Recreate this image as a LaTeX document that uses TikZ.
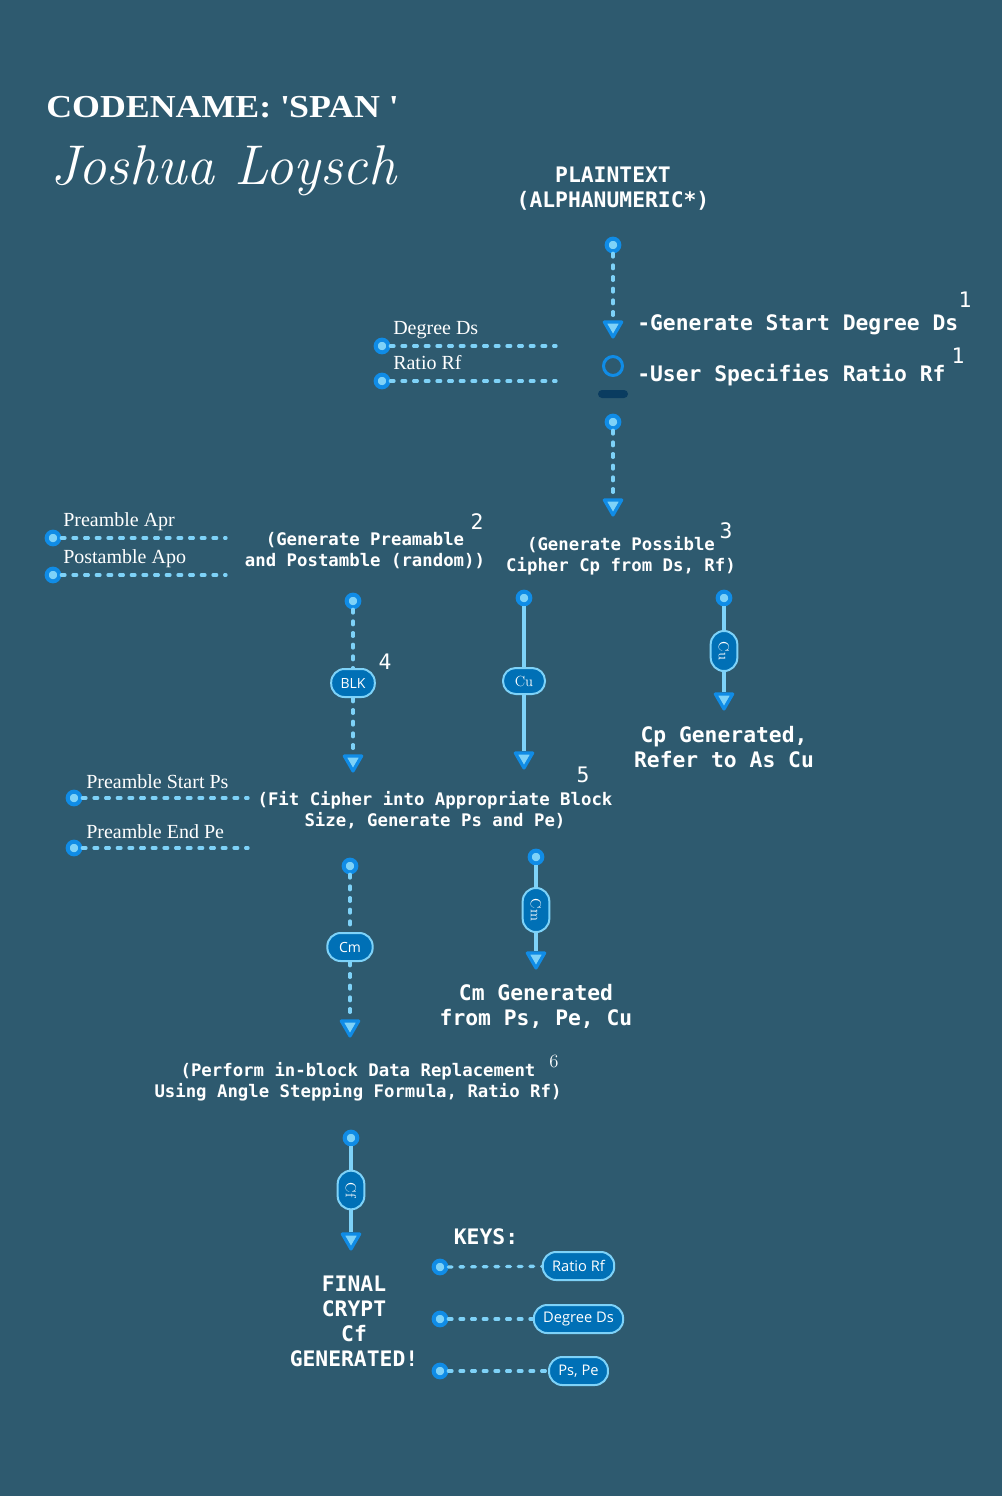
\documentclass[tikz,border=0pt]{standalone}
\usepackage{fontspec}
\usetikzlibrary{shapes.geometric,shapes.misc}
\newfontfamily\monofam{DejaVu Sans Mono}
\newfontfamily\sansfam{Open Sans}
\newfontfamily\titlefam[FakeStretch=1.12]{Liberation Serif}
\newfontfamily\labfam{Liberation Serif}
\definecolor{bg}{RGB}{46,90,111}
\definecolor{lite}{RGB}{126,210,248}
\definecolor{blu}{RGB}{16,140,230}
\definecolor{pillc}{RGB}{0,112,182}
\definecolor{barc}{RGB}{10,60,96}
\begin{document}
\begin{tikzpicture}[x=0.75pt,y=-0.75pt,
  dotn/.style={circle,fill=lite,draw=blu,line width=3pt,minimum size=9.5pt,inner sep=0pt},
  dsh/.style={draw=lite,line width=2.5pt,dash pattern=on 2.75pt off 6pt,line cap=round},
  sol/.style={draw=lite,line width=2.6pt},
  tip/.style={regular polygon,regular polygon sides=3,shape border rotate=180,fill=lite,draw=blu,line width=2.4pt,line join=round,minimum size=15pt,inner sep=0pt},
  pill/.style={rectangle,rounded corners=10pt,fill=pillc,draw=lite,line width=1.5pt,text=white,font=\sansfam\fontsize{10.5}{12}\selectfont,minimum height=21pt,inner xsep=7pt,inner ysep=0pt},
  spill/.style={pill,rounded corners=9.5pt,font=\fontsize{11}{12}\selectfont,minimum height=19.5pt,minimum width=31.5pt},
  vpill/.style={pill,rotate=-90,font=\fontsize{11}{12}\selectfont,minimum height=20pt,minimum width=30pt,inner xsep=3pt},
  kpill/.style={pill,font=\sansfam\fontsize{11}{12}\selectfont},
  big/.style={text=white,font=\monofam\bfseries\fontsize{16}{18.75}\selectfont,inner sep=0pt,align=center},
  stp/.style={text=white,font=\monofam\bfseries\fontsize{13}{15.75}\selectfont,inner sep=0pt,align=center},
  lab/.style={text=white,font=\labfam\fontsize{15}{17}\selectfont,inner sep=0pt,anchor=west},
  num/.style={text=white,font=\monofam\fontsize{16}{18}\selectfont,inner sep=0pt}
]
\fill[bg] (0,0) rectangle (1002,1496);
\useasboundingbox (0,0) rectangle (1002,1496);

% title
\node[anchor=base west,inner sep=0pt,text=white,font=\titlefam\bfseries\fontsize{24}{28}\selectfont] (title) at (46,117) {CODENAME: \textquotesingle SPAN \textquotesingle};
\node[anchor=base west,inner sep=0pt,text=white,font=\itshape\fontsize{42}{46}\selectfont] (name) at (50,184) {Joshua Loysch};

% plaintext
\node[big] (plain) at (613,189) {PLAINTEXT\\(ALPHANUMERIC*)};

% step 1
\node[dotn] (d1) at (613,245) {};
\node[tip] (a1) at (613,327) {};
\draw[dsh] (d1) -- (a1.north);
\node[big,anchor=west] (g1) at (637,325) {-Generate Start Degree Ds};
\node[num] (n1a) at (965,300) {1};
\node[circle,draw=blu,line width=2.25pt,minimum size=14.25pt,inner sep=0pt] (circ) at (613,366) {};
\node[big,anchor=west] (g2) at (637,375) {-User Specifies Ratio Rf};
\node[num] (n1b) at (958,356) {1};
\node[rectangle,rounded corners=3pt,fill=barc,minimum width=22.5pt,minimum height=6pt,inner sep=0pt] (bar) at (613,394) {};
\node[dotn] (d2) at (613,422) {};
\node[tip] (a2) at (613,505) {};
\draw[dsh] (d2) -- (a2.north);

% left keys step 1
\node[lab] (lds) at (393,330) {Degree Ds};
\node[dotn] (dds) at (382,346) {};
\coordinate (eds) at (556,346);
\draw[dsh] (dds) -- (eds);
\node[lab] (lrf) at (393,363) {Ratio Rf};
\node[dotn] (drf) at (382,381) {};
\coordinate (erf) at (556,381);
\draw[dsh] (drf) -- (erf);

% step 2
\node[stp] (s2) at (365,551) {(Generate Preamable\\and Postamble (random))};
\node[num] (n2) at (477,522) {2};
\node[lab] (lapr) at (63,522) {Preamble Apr};
\node[dotn] (dapr) at (53,538) {};
\coordinate (eapr) at (226,538);
\draw[dsh] (dapr) -- (eapr);
\node[lab] (lapo) at (63,559) {Postamble Apo};
\node[dotn] (dapo) at (53,575) {};
\coordinate (eapo) at (226,575);
\draw[dsh] (dapo) -- (eapo);

% step 3
\node[stp] (s3) at (621,556) {(Generate Possible\\Cipher Cp from Ds, Rf)};
\node[num] (n3) at (726,531) {3};

% BLK column
\node[dotn] (d4) at (353,601) {};
\node[pill] (blk) at (353,683) {BLK};
\node[tip] (a4) at (353,761) {};
\draw[dsh] (d4) -- (blk);
\draw[dsh] (blk) -- (a4.north);
\node[num] (n4) at (385,662) {4};

% Cu column
\node[dotn] (d5) at (524,598) {};
\node[spill] (cu1) at (524,681) {Cu};
\node[tip] (a5) at (524,758) {};
\draw[sol] (d5) -- (cu1);
\draw[sol] (cu1) -- (a5.north);

% right Cu column
\node[dotn] (d6) at (724,598) {};
\node[vpill] (cu2) at (724,651) {Cu};
\node[tip] (a6) at (724,699) {};
\draw[sol] (d6) -- (cu2);
\draw[sol] (cu2) -- (a6.north);
\node[big] (cpg) at (724,747) {Cp Generated,\\Refer to As Cu};

% step 5
\node[num] (n5) at (583,775) {5};
\node[stp] (s5) at (435,810) {(Fit Cipher into Appropriate Block\\Size, Generate Ps and Pe)};
\node[lab] (lps) at (86,782) {Preamble Start Ps};
\node[dotn] (dps) at (74,798) {};
\coordinate (eps) at (248,798);
\draw[dsh] (dps) -- (eps);
\node[lab] (lpe) at (86,832) {Preamble End Pe};
\node[dotn] (dpe) at (74,848) {};
\coordinate (epe) at (248,848);
\draw[dsh] (dpe) -- (epe);

% Cm column
\node[dotn] (d7) at (350,866) {};
\node[pill,minimum width=34pt] (cm1) at (350,947) {Cm};
\node[tip] (a7) at (350,1026) {};
\draw[dsh] (d7) -- (cm1);
\draw[dsh] (cm1) -- (a7.north);

% right Cm column
\node[dotn] (d8) at (536,857) {};
\node[vpill,minimum width=33pt] (cm2) at (536,910) {Cm};
\node[tip] (a8) at (536,958) {};
\draw[sol] (d8) -- (cm2);
\draw[sol] (cm2) -- (a8.north);
\node[big] (cmg) at (536,1006) {Cm Generated\\from Ps, Pe, Cu};

% step 6
\node[stp] (s6) at (358,1082) {(Perform in-block Data Replacement\\Using Angle Stepping Formula, Ratio Rf)};
\node[text=white,font=\fontsize{14}{16}\selectfont,inner sep=0pt] (n6) at (554,1061) {6};

% Cf column
\node[dotn] (d9) at (351,1138) {};
\node[vpill,minimum width=29pt] (cf) at (351,1190) {Cf};
\node[tip] (a9) at (351,1239) {};
\draw[sol] (d9) -- (cf);
\draw[sol] (cf) -- (a9.north);
\node[big] (fin) at (354,1321) {FINAL\\CRYPT\\Cf\\GENERATED!};

% keys
\node[big] (keys) at (486,1237) {KEYS:};
\node[dotn] (kd1) at (440,1267) {};
\node[kpill] (kp1) at (578.5,1266) {Ratio Rf};
\draw[dsh] (kd1) -- (kp1);
\node[dotn] (kd2) at (440,1319) {};
\node[kpill] (kp2) at (578.5,1319) {Degree Ds};
\draw[dsh] (kd2) -- (kp2);
\node[dotn] (kd3) at (440,1371) {};
\node[kpill] (kp3) at (578.5,1371) {Ps, Pe};
\draw[dsh] (kd3) -- (kp3);
\end{tikzpicture}
\end{document}
